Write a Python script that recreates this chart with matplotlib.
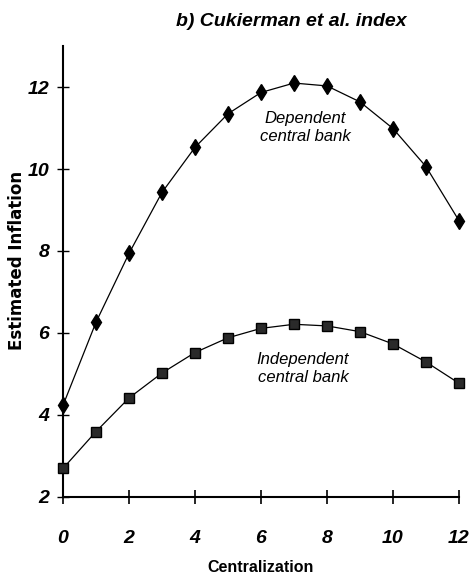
import matplotlib
matplotlib.use("Agg")
import matplotlib.pyplot as plt
from matplotlib import font_manager

centralization = [0, 1, 2, 3, 4, 5, 6, 7, 8, 9, 10, 11, 12]
dependent_cb = [4.23, 6.26, 7.94, 9.43, 10.53, 11.35, 11.87, 12.10, 12.03, 11.64, 10.99, 10.06, 8.74]
independent_cb = [2.69, 3.59, 4.41, 5.02, 5.52, 5.88, 6.11, 6.21, 6.17, 6.03, 5.73, 5.29, 4.77]
x_ticks = [0, 2, 4, 6, 8, 10, 12]
y_ticks = [2, 4, 6, 8, 10, 12]

installed = {f.name for f in font_manager.fontManager.ttflist}
narrow = [f for f in ["Liberation Sans Narrow", "Liberation Sans", "DejaVu Sans"] if f in installed]

fig = plt.figure(figsize=(4.71, 5.84), dpi=100)
ax = fig.add_axes([63 / 471, 87.3 / 584, 396 / 471, 450.5 / 584])

ax.plot(centralization, dependent_cb, color="black", lw=0.9, marker="d",
        markersize=8.5, markerfacecolor="black", markeredgecolor="black",
        clip_on=False, zorder=3)
ax.plot(centralization, independent_cb, color="black", lw=0.9, marker="s",
        markersize=7, markerfacecolor="#2a2a2a", markeredgecolor="black",
        clip_on=False, zorder=3)

ax.set_xlim(0, 12)
ax.set_ylim(2, 13)
ax.set_xticks(x_ticks)
ax.set_yticks(y_ticks)

for side in ["top", "right"]:
    ax.spines[side].set_visible(False)
for side in ["left", "bottom"]:
    ax.spines[side].set_linewidth(1.5)

ax.tick_params(axis="x", direction="inout", length=10.5, width=1.2, pad=19)
ax.tick_params(axis="y", direction="inout", length=8, width=1.0, pad=6)

tick_font = dict(family=narrow, weight="bold", style="italic", size=14)
ax.set_xticklabels([str(v) for v in x_ticks], fontdict=tick_font)
ax.set_yticklabels([str(v) for v in y_ticks], fontdict=tick_font)

ax.text(7.33, 11.02, "Dependent\ncentral bank", ha="center", va="center",
        family=narrow, style="italic", size=12, linespacing=1.25)
ax.text(7.27, 5.13, "Independent\ncentral bank", ha="center", va="center",
        family=narrow, style="italic", size=12, linespacing=1.25)

fig.text(291 / 471, 1 - 22 / 584, "b) Cukierman et al. index", ha="center", va="center",
         family=narrow, weight="bold", style="italic", size=14)
fig.text(261 / 471, 1 - 568 / 584, "Centralization", ha="center", va="center",
         family=narrow, weight="bold", size=11.5)
fig.text(17 / 471, 1 - 260 / 584, "Estimated Inflation", ha="center", va="center",
         rotation=90, family="DejaVu Sans", weight="bold", size=12)

fig.savefig("out.png", dpi=100)
